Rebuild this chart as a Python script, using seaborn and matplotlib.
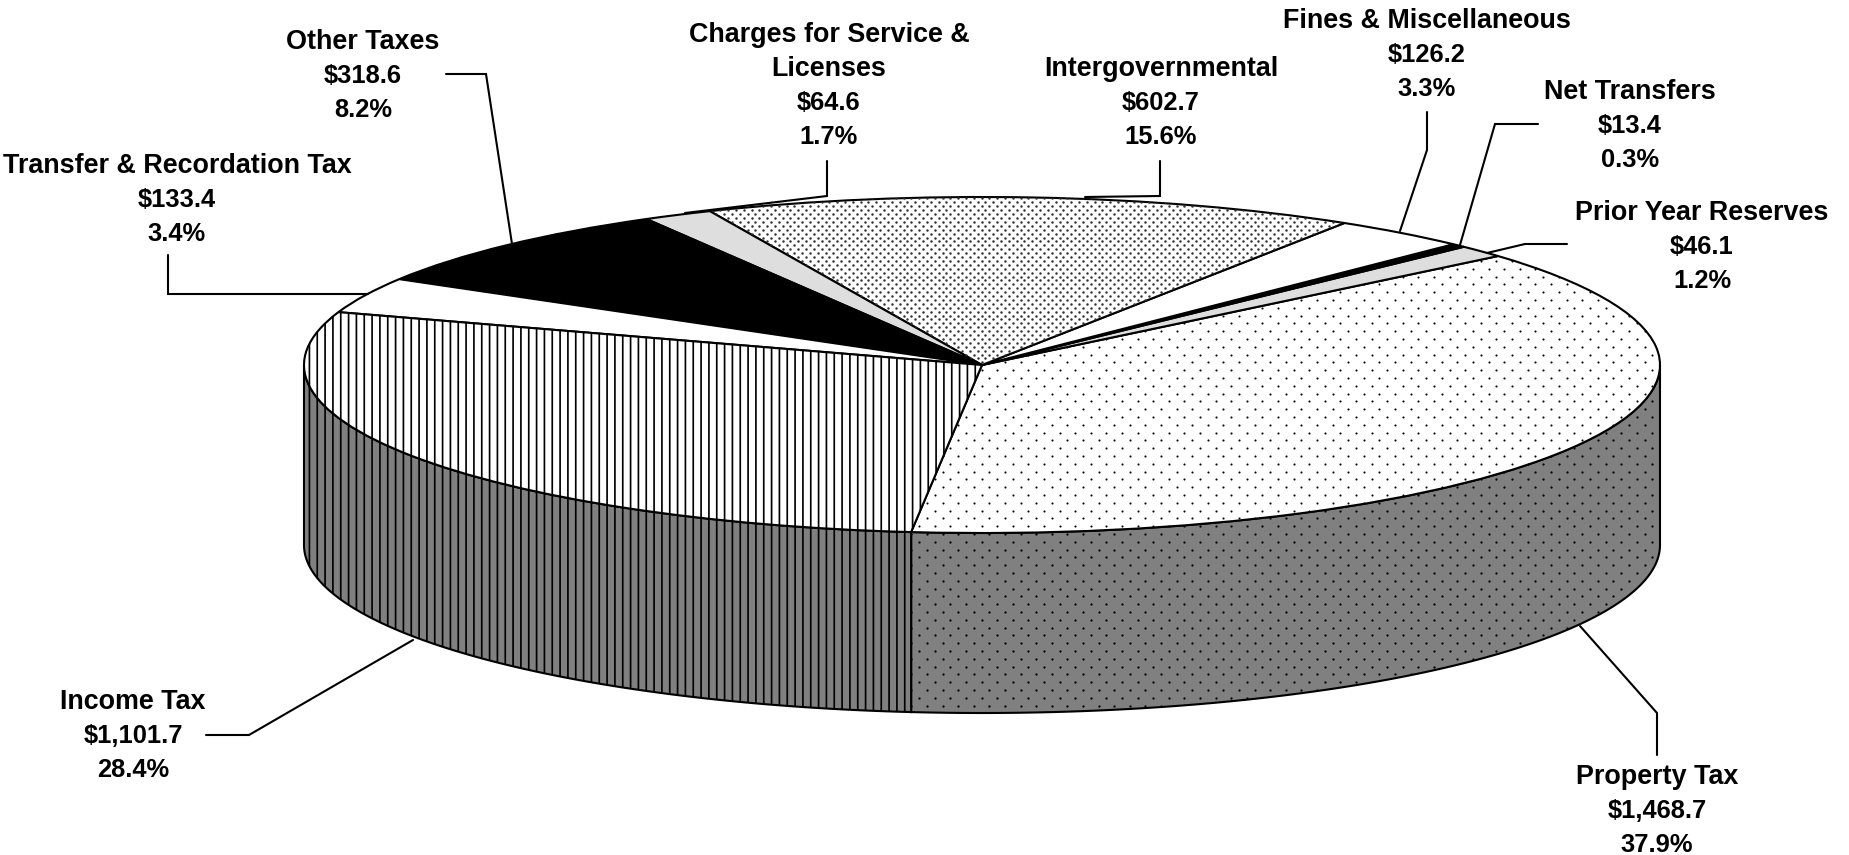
# ---------------------- IMPORTS ----------------------
import numpy as np
import matplotlib
matplotlib.use("Agg")
import matplotlib.pyplot as plt
from matplotlib.patches import Polygon
import seaborn as sns

# ---------------------- DATA ----------------------
names = ["Property Tax", "Prior Year Reserves", "Net Transfers", "Fines & Miscellaneous",
         "Intergovernmental", "Charges for Service &\nLicenses", "Other Taxes",
         "Transfer & Recordation Tax", "Income Tax"]
amounts = [1468.7, 46.1, 13.4, 126.2, 602.7, 64.6, 318.6, 133.4, 1101.7]
percents = [37.9, 1.2, 0.3, 3.3, 15.6, 1.7, 8.2, 3.4, 28.4]

# ---------------------- STYLE ----------------------
face_colors = ["white", "#dedede", "black", "white", "white", "#dedede", "black", "white", "white"]
hatches = [None, None, None, None, None, None, None, None, "||"]
wall_color = "#808080"

# label centre in px (x, y of block middle)
label_pos = [(1657, 811), (1702, 247), (1630, 126), (1427, 55), (1161, 103),
             (829, 86), (363, 76), (177, 200), (133, 736)]
leaders = [[(1580, 626), (1657, 713), (1657, 755)],
           [(1567, 244), (1525, 244), (1487, 253)],
           [(1538, 124), (1495, 124), (1460, 245)],
           [(1427, 112), (1427, 150), (1400, 231)],
           [(1160, 161), (1160, 196), (1085, 197)],
           [(827, 161), (827, 196), (685, 213)],
           [(446, 74), (486, 74), (512, 244)],
           [(168, 255), (168, 294), (368, 294)],
           [(206, 735), (249, 735), (413, 640)]]

W, H, DPI = 1849, 855, 94
cx, cy, rx, ry, depth = 982, 365, 678, 168, 180
start_angle = -96
line_w = 1.6
line_h = 34

sns.set_theme(style="white")
plt.rcParams["font.family"] = ["Liberation Sans", "DejaVu Sans"]
plt.rcParams["hatch.linewidth"] = 1.3


def to_data(px, py):
    return (np.asarray(px, dtype=float) - cx) / rx, (cy - np.asarray(py, dtype=float)) / ry


def stipple(ax, patch, step, size, color="black"):
    # dot texture, same diagonal lattice as the source fill
    rows = np.arange(0, int(H / (step / 2)) + 1)
    xs, ys = [], []
    for i in rows:
        col = np.arange(-1, int(W / step) + 2) * step + (i % 2) * step / 2 + 927 % step
        xs.extend(col)
        ys.extend(np.full(len(col), i * step / 2 + 541.7 % (step / 2)))
    x, y = to_data(xs, ys)
    dots = ax.scatter(x, y, s=size, color=color, linewidths=0, zorder=patch.get_zorder() + 0.1)
    dots.set_clip_path(patch)


# ---------------------- TOP OF PIE ----------------------
fig = plt.figure(figsize=(W / DPI, H / DPI), dpi=DPI, facecolor="white")
ax = fig.add_axes([0, 0, 1, 1])
wedges, _ = ax.pie(amounts, startangle=start_angle, counterclock=True, colors=face_colors,
                   hatch=hatches, wedgeprops=dict(edgecolor="black", linewidth=line_w))

# ---------------------- SIDE WALL ----------------------
bounds = start_angle + np.concatenate([[0], np.cumsum(amounts)]) / np.sum(amounts) * 360
for i in range(len(amounts)):
    a0, a1 = bounds[i], bounds[i + 1]
    # only the 180..360 range of the wall shows
    if a0 < 0:
        a0_w, a1_w = max(a0 + 360, 180), min(a1 + 360, 360)
    elif a1 > 180:
        a0_w, a1_w = max(a0, 180), min(a1, 360)
    else:
        continue
    t = np.radians(np.linspace(a0_w, a1_w, 120))
    top = np.column_stack([np.cos(t), np.sin(t)])
    low = top - [0, depth / ry]
    wall = Polygon(np.vstack([top, low[::-1]]), closed=True, facecolor=wall_color,
                   edgecolor="black", linewidth=line_w, hatch=hatches[i], zorder=0.5)
    ax.add_patch(wall)
    if i == 0:
        stipple(ax, wall, 15.6, 3.0)

stipple(ax, wedges[0], 15.6, 2.6)
stipple(ax, wedges[4], 7.8, 3.6, color="#333333")

ax.set_aspect("auto")
ax.set_xlim(to_data(0, 0)[0], to_data(W, 0)[0])
ax.set_ylim(to_data(0, H)[1], to_data(0, 0)[1])
ax.axis("off")

# ---------------------- LABELS ----------------------
for name, amt, pct, (lx, ly), path in zip(names, amounts, percents, label_pos, leaders):
    name_lines = name.split("\n")
    lines = name_lines + [f"${amt:,.1f}", f"{pct:.1f}%"]
    for k, line in enumerate(lines):
        tx, ty = to_data(lx, ly + (k - (len(lines) - 1) / 2) * line_h)
        # names run wider in the source than the figures below them
        size = 20.6 if k < len(name_lines) else 19.5
        ax.text(tx, ty, line, ha="center", va="center", fontsize=size, fontweight="bold",
                color="black", clip_on=False)
    px, py = to_data(*zip(*path))
    ax.plot(px, py, color="black", lw=line_w, solid_joinstyle="miter", zorder=5)

fig.savefig("out.png", dpi=DPI, facecolor="white")
